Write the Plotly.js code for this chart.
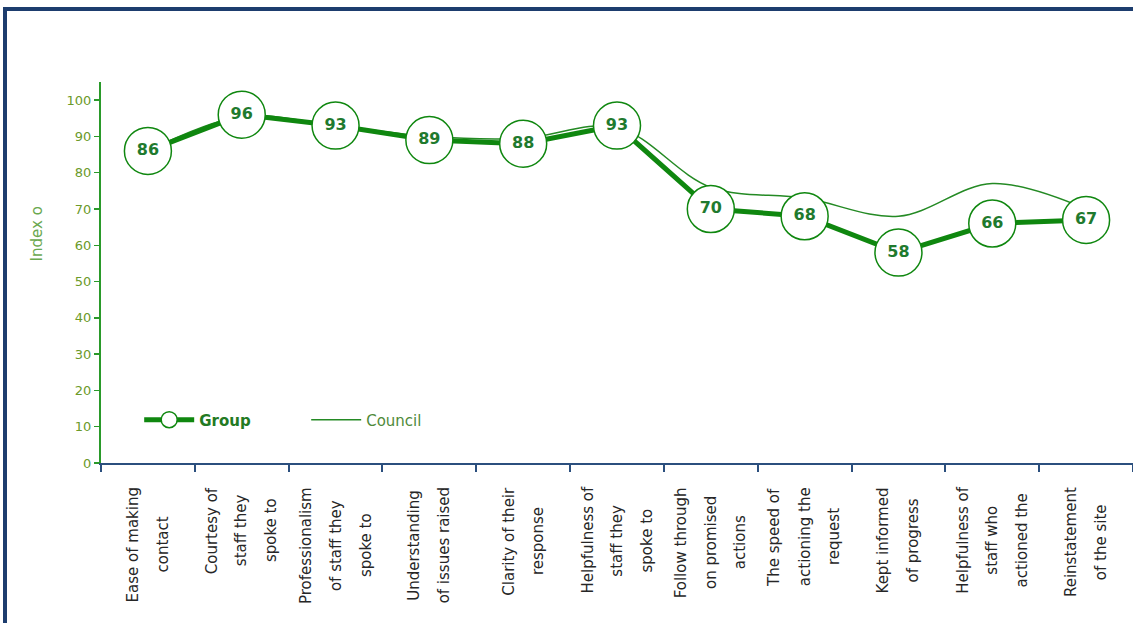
<!DOCTYPE html>
<html>
<head>
<meta charset="utf-8">
<script src="https://cdn.plot.ly/plotly-3.0.1.min.js"></script>
<style>
html,body{margin:0;padding:0;background:#fff;overflow:hidden;}
#wrap{position:relative;width:1133px;height:623px;}
#chart{position:absolute;left:0;top:0;width:1133px;height:623px;}
#frame{position:absolute;left:3px;top:7px;width:1200px;height:700px;border-left:4px solid #1d3d6e;border-top:4px solid #1d3d6e;pointer-events:none;}
</style>
</head>
<body>
<div id="wrap"><div id="chart"></div><div id="frame"></div></div>
<script>
// ---- data ----
var categories = [
  "Ease of making|contact",
  "Courtesy of|staff they|spoke to",
  "Professionalism|of staff they|spoke to",
  "Understanding|of issues raised",
  "Clarity of their|response",
  "Helpfulness of|staff they|spoke to",
  "Follow through|on promised|actions",
  "The speed of|actioning the|request",
  "Kept informed|of progress",
  "Helpfulness of|staff who|actioned the",
  "Reinstatement|of the site"
];
var groupValues   = [86, 96, 93, 89, 88, 93, 70, 68, 58, 66, 67];
var councilValues = [86, 95.5, 93, 90, 89.5, 92.5, 76, 73, 68, 77, 70];
var yTicks = [0, 10, 20, 30, 40, 50, 60, 70, 80, 90, 100];
var yTitle = "Index o";

var xIdx = categories.map(function(c, i){ return i; });

var green = "#0f870f";
var labelFont = "DejaVu Sans";
var labelSize = 15;

// measure text for centred multi-line category labels
var cv = document.createElement("canvas").getContext("2d");
cv.font = labelSize + "px '" + labelFont + "'";

var annotations = [];
categories.forEach(function(cat, i){
  var lines = cat.split("|");
  var widths = lines.map(function(l){ return cv.measureText(l).width; });
  var maxW = Math.max.apply(null, widths);
  var n = lines.length;
  lines.forEach(function(l, j){
    annotations.push({
      x: i, xref: "x", y: 0, yref: "paper",
      text: l, showarrow: false, textangle: -90,
      xanchor: "center", yanchor: "top",
      xshift: (j - (n - 1) / 2) * 30,
      yshift: -22 - (maxW - widths[j]) / 2,
      font: {family: labelFont, size: labelSize, color: "#262626"}
    });
  });
});
annotations.push({
  x: -0.062, xref: "paper", y: 63, yref: "y",
  text: yTitle, showarrow: false, textangle: -90,
  xanchor: "center", yanchor: "middle",
  font: {family: labelFont, size: 15, color: "#6aa84f"}
});

var traces = [
  {
    x: xIdx, y: councilValues, type: "scatter", mode: "lines",
    name: '<span style="color:#4f8a3a">Council</span>',
    line: {color: "#248a24", width: 1.5, shape: "spline", smoothing: 1},
    hoverinfo: "skip"
  },
  {
    x: xIdx, y: groupValues, type: "scatter", mode: "lines+markers+text",
    name: '<b style="color:#237a23">Group</b>',
    line: {color: green, width: 5},
    marker: {symbol: "circle", size: 47, color: "#ffffff", line: {color: green, width: 1.5}},
    text: groupValues.map(String), textposition: "middle center",
    textfont: {family: labelFont, size: 16, color: "#1f7a2e", weight: "bold"},
    hoverinfo: "skip"
  }
];

var layout = {
  width: 1133, height: 623,
  margin: {l: 101, r: 0, t: 82, b: 160, pad: 0},
  paper_bgcolor: "#ffffff", plot_bgcolor: "#ffffff",
  showlegend: true,
  legend: {
    orientation: "h", x: 0.037, xanchor: "left", y: 0.113, yanchor: "middle",
    traceorder: "reversed", itemsizing: "trace", itemwidth: 50,
    entrywidth: 102, entrywidthmode: "pixels",
    font: {family: labelFont, size: 15, color: "#4f8a3a"},
    bgcolor: "rgba(0,0,0,0)"
  },
  xaxis: {
    type: "linear", range: [-0.5, 10.5], fixedrange: true,
    showgrid: false, zeroline: false,
    showline: true, linecolor: "#2b4f7e", linewidth: 2,
    tickmode: "array", tickvals: xIdx.map(function(i){ return i - 0.5; }).concat([10.5]),
    ticks: "outside", ticklen: 7, tickwidth: 2, tickcolor: "#2b4f7e",
    showticklabels: false
  },
  yaxis: {
    range: [0, 105], fixedrange: true,
    showgrid: false, zeroline: false,
    showline: true, linecolor: "#2a9a2a", linewidth: 2,
    tickmode: "array", tickvals: yTicks, ticktext: yTicks.map(String),
    ticks: "outside", ticklen: 5, tickwidth: 1.5, tickcolor: "#2a9a2a",
    tickfont: {family: labelFont, size: 13, color: "#6b9a2a"}
  },
  annotations: annotations
};

Plotly.newPlot("chart", traces, layout, {displayModeBar: false, staticPlot: true});
</script>
</body>
</html>
